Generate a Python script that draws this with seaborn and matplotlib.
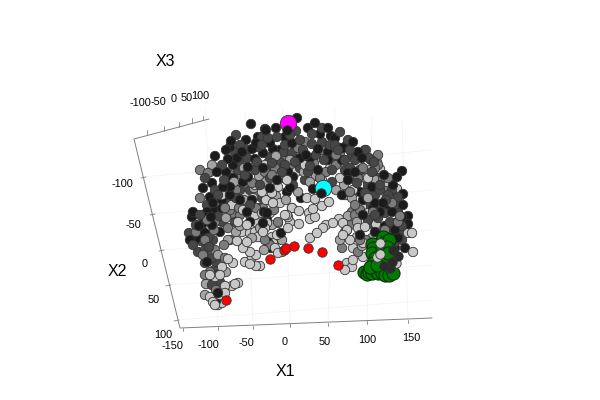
import pandas as pd
import matplotlib
matplotlib.use("Agg")
import matplotlib.pyplot as plt
import seaborn as sns

# projected positions of the points, by shade
black_pts = [(251,124),(215,156),(231,141),(230,147),(258,137),(266,130),(228,159),(226,172),(217,172),(248,167),
    (233,165),(242,152),(252,149),(263,153),(255,159),(297,118),(265,129),(276,128),(315,123),(328,128),(320,134),
    (331,136),(335,138),(340,148),(292,143),(270,143),(280,150),(273,149),(318,149),(328,152),(310,158),(338,162),
    (318,170),(300,158),(263,168),(288,172),(402,171),(397,177),(393,185),(403,194),(403,205),(353,142),(348,173),
    (355,172),(348,180),(371,160),(360,192),(383,203),(373,208),(363,200),(343,148),(342,160),(372,187),(388,207),
    (375,203),(203,188),(212,183),(210,197),(213,203),(215,210),(222,208),(230,195),(223,187),(230,187),(193,212),
    (192,217),(205,217),(211,217),(203,223),(202,230),(197,238),(205,233),(243,182),(247,212),(252,200),(240,200),
    (220,232),(233,178),(248,177),(260,208),(267,213),(250,222),(290,188),(287,192),(301,198),(313,189),(270,188),
    (281,233),(264,212),(267,220),(263,223),(277,180),(293,177),(347,195),(342,195),(408,216),(408,224),(402,217),
    (395,223),(390,245),(395,248),(405,248),(388,255),(363,215),(375,232),(360,235),(207,262),(190,240),
    (216,301),(218,293),(268,242),(269,245),(271,248),(246,140),(285,137),(308,128),(346,146),(358,152),(226,150),
    (256,143),(296,148),(306,155),(328,160),(362,158),(384,175),(380,212),(392,212),(398,238),(385,226),(395,230),
    (237,158),(222,200),(207,212),(199,226),(212,225)]
dark_pts = [(240,145),(247,158),(258,147),(235,152),(222,165),(238,170),(255,170),(268,138),(277,137),(285,145),
    (262,145),(270,157),(280,162),(292,153),(303,150),(312,144),(322,142),(330,145),(300,168),(308,172),(324,160),
    (332,170),(345,160),(350,150),(355,160),(360,170),(365,150),(348,140),(352,155),(372,172),(380,172),(368,185),
    (380,190),(388,195),(380,185),(357,183),(395,205),(385,213),(398,212),(378,218),(390,222),(400,232),(392,235),
    (402,240),(385,238),(395,242),(368,220),(374,225),(200,215),(207,205),(196,225),(215,190),(205,178),(218,195),
    (228,203),(240,190),(250,190),(260,185),(270,178),(282,172),(293,185),(305,180),(250,205),(262,198),(193,245),
    (205,250),(213,240),(222,222),(235,222),(205,263),(216,262),(220,282),(218,275),(189,233),(208,238),(290,135),
    (300,140),(312,134),(340,132),(345,170),(375,195),(365,193),(332,182),(224,180),(240,160),(257,162),(270,170),
    (285,165),(198,252),(212,285),(262,137),(296,131),(322,128),(335,145),(369,158),(236,135),(246,150),(272,163),
    (284,152),(316,155),(338,150),(350,168),(374,162),(392,190),(398,197),(368,205),(386,200),(375,215),(402,226),
    (383,232),(227,186),(236,198),(245,175),(219,216),(209,247),(201,241),(212,258),(215,270),(295,162),(310,166)]
mid_pts = [(208,173),(200,170),(230,175),(242,175),(265,172),(275,168),(298,160),(320,178),(336,155),(363,168),
    (378,165),(383,178),(392,203),(360,210),(350,192),(372,195),(385,188),(380,205),(365,205),(355,205),(200,198),
    (207,220),(215,222),(230,210),(240,215),(250,215),(258,222),(268,200),(274,210),(205,240),(215,250),(225,258),
    (210,272),(216,290),(265,240),(270,245),(345,232),(350,225),(355,215),(360,240),(385,230),(342,248),(358,252),
    (298,148),(305,142),(322,150),(340,155),(284,157),(268,163),(252,183),(236,190),(226,195),(214,230),(230,240),
    (224,245),(210,255),(263,208),(278,222),(398,222),(390,232),(400,216),(375,168),(358,178),(225,208),(235,215),
    (255,195),(246,204),(272,175),(283,178),(292,165),(314,163),(326,172),(336,165),(352,178),(365,178),(378,155),
    (388,178),(393,197),(373,212),(352,212),(366,240),(205,275),(203,255),(196,232),(228,228),(239,208),(256,208)]
pale_pts = [(212,165),(234,182),(244,168),(259,176),(276,156),(290,160),(304,172),(316,176),(330,156),(344,185),
    (352,198),(376,180),(390,198),(368,198),(357,222),(372,238),(216,212),(226,218),(240,226),(252,238),(260,228),
    (272,225),(282,240),(206,284),(214,281),(226,272),(244,200),(254,188),(266,182),(276,196),(286,200),(298,192),
    (310,182),(336,190),(362,246),(348,216),(340,240),(205,295),(228,240),(236,232),(218,255),(264,250),(276,240)]
light_pts = [(292,208),(299,211),(313,209),(309,213),(322,206),(329,202),(315,217),(310,219),(299,224),(339,219),
    (333,223),(326,225),(323,228),(317,233),(310,238),(343,223),(347,230),(343,235),(288,228),(288,217),(285,215),
    (273,203),(280,203),(266,200),(262,192),(278,187),(307,198),(315,199),(237,241),(247,242),(243,248),(250,252),
    (256,255),(252,257),(245,262),(250,264),(256,266),(260,266),(228,259),(233,263),(222,267),(213,262),(220,275),
    (215,277),(210,275),(238,283),(235,284),(232,286),(225,286),(225,293),(220,295),(215,305),(218,305),(210,297),
    (213,302),(222,303),(273,243),(275,248),(278,253),(282,252),(272,237),(277,235),(263,232),(258,237),(267,223),
    (257,223),(253,198),(292,208),(287,215),(290,222),(250,233),(262,213),(270,213),(278,223),(347,230),(350,240),
    (353,248),(357,237),(365,227),(358,228),(354,220),(363,243),(363,257),(353,260),(345,270),(352,267),(347,263),
    (362,207),(357,207),(368,213),(376,224),(413,252),(408,233),(412,233),(353,190),(345,195),(368,189),
    (370,170),(378,197),(362,208),(399,201),(377,162),(380,169),(366,150),(387,182),(397,189),(368,178),(357,164),
    (210,172),(222,195),(265,165),(278,165),(287,180),(296,172),(305,165),(330,168),(322,180),(340,178),(244,183),
    (255,185),(272,193),(245,195),(232,205),(243,210),(255,215),(238,222),(247,225),(258,217),(265,228),(242,232),
    (255,232)]
green_pts = [(372,244),(373,248),(372,253),(375,258),(383,237),(385,242),(389,240),(364,272),(367,274),(369,272),
    (372,273),(375,270),(378,273),(382,273),(385,275),(389,275),(393,273),(392,260),(388,258),(383,258),(382,248),
    (387,247),(388,253),(373,263),(370,267),(377,265)]
over_green_pts = [(380,243),(377,257),(380,254),(396,263)]
over_green_dark = [(390,268),(384,266),(393,250),(398,256),(392,262)]
red_pts = [(226,300),(270,259),(284,250),(286,248),(294,246),(308,248),(322,252),(338,265)]
magenta_pt = (288,123)
cyan_pt = (323,188)
top_black_pts = [(287,130),(321,193)]

shade_names = ["black", "dark", "mid", "pale", "light"]
shade_colors = ["#1b1b1b", "#474747", "#7c7c7c", "#a3a3a3", "#c8c8c8"]

# tick labels on the three box axes with their places on the page
x1_labels = ["-150", "-100", "-50", "0", "50", "100", "150"]
x1_label_x = [172, 208, 246, 285, 325, 367, 411]
x1_label_y = [346, 345, 343, 342, 342, 340, 338]
x2_labels = ["-100", "-50", "0", "50", "100"]
x2_label_x = [122, 133, 145, 154, 163]
x2_label_y = [184, 225, 264, 300, 335]
x3_labels = ["-100", "-50", "0", "50", "100"]
x3_label_x = [140, 158, 174, 187, 200]
x3_label_y = [103, 102, 99, 98, 96]


def to_frame(pts, name):
    df = pd.DataFrame(pts, columns=["x", "y"])
    df["shade"] = name
    return df


cloud = pd.concat([to_frame(p, n) for p, n in
                   zip([black_pts, dark_pts, mid_pts, pale_pts, light_pts], shade_names)], ignore_index=True)
# depth order in the picture looks mixed, so mix the draw order without randomness
cloud["order"] = (cloud["x"] * 7 + cloud["y"] * 13) % 17
# the upper band reads darker: its dark points sit in front
upper_dark = (cloud["y"] < 190) & cloud["shade"].isin(["black", "dark"])
cloud.loc[upper_dark, "order"] += 8
cloud = cloud.sort_values("order")

sns.set_style("white")
plt.rcParams["font.family"] = ["Liberation Sans", "DejaVu Sans"]

fig = plt.figure(figsize=(6, 4), dpi=100)
ax = fig.add_axes([0, 0, 1, 1])
ax.set_xlim(0, 600)
ax.set_ylim(400, 0)

# faint floor grid
grid = "#f3f3f3"
for x0, y0, x1, y1 in [(218,328,205,110),(253,327,245,112),(290,325,283,108),(328,323,335,110),(367,323,372,118),(408,321,402,120),
                       (142,177,432,150),(153,214,432,190),(162,250,432,230),(168,285,432,265),(177,320,432,300)]:
    ax.plot([x0, x1], [y0, y1], color=grid, lw=0.6, zorder=1)

# box edges and ticks
edge = "#808080"
ax.plot([209, 134, 180, 432], [119, 139, 328, 318], color=edge, lw=0.7, zorder=2)
for x0, y0, x1, y1 in [(183,328,183,331),(218,327,218,330),(253,326,253,329),(290,324,290,327),(328,323,328,326),(367,321,367,324),(408,320,408,323),
                       (146,177,141,178),(155,214,150,215),(164,250,159,251),(171,285,166,286),(179,320,174,321),
                       (147,135,147,130),(164,131,164,126),(179,127,179,122),(192,123,192,118),(203,120,203,116)]:
    ax.plot([x0, x1], [y0, y1], color=edge, lw=0.6, zorder=2)

for lab, x, y in zip(x1_labels + x2_labels + x3_labels,
                     x1_label_x + x2_label_x + x3_label_x,
                     x1_label_y + x2_label_y + x3_label_y):
    ax.text(x, y, lab, ha="center", va="center", fontsize=7.8, color="black")
ax.text(285, 372, "X1", ha="center", va="center", fontsize=11.5, color="black")
ax.text(117, 272, "X2", ha="center", va="center", fontsize=11.5, color="black")
ax.text(165, 61, "X3", ha="center", va="center", fontsize=11.5, color="black")

pt_edge = "#333333"
sns.scatterplot(data=cloud, x="x", y="y", hue="shade", hue_order=shade_names, palette=shade_colors,
                s=46, edgecolor=pt_edge, linewidth=0.6, alpha=1, legend=False, ax=ax, zorder=3)
sns.scatterplot(x=[p[0] for p in green_pts], y=[p[1] for p in green_pts], color="#007a00",
                s=90, edgecolor="#062a06", linewidth=0.7, ax=ax, zorder=4)
sns.scatterplot(x=[p[0] for p in over_green_pts], y=[p[1] for p in over_green_pts], color="#c8c8c8",
                s=46, edgecolor=pt_edge, linewidth=0.6, ax=ax, zorder=5)
sns.scatterplot(x=[p[0] for p in over_green_dark], y=[p[1] for p in over_green_dark], color="#2a2a2a",
                s=46, edgecolor=pt_edge, linewidth=0.6, ax=ax, zorder=5)
sns.scatterplot(x=[p[0] for p in red_pts], y=[p[1] for p in red_pts], color="#ff0000",
                s=46, edgecolor=pt_edge, linewidth=0.6, ax=ax, zorder=5)
sns.scatterplot(x=[magenta_pt[0]], y=[magenta_pt[1]], color="#ff00ff", s=140, edgecolor=pt_edge, linewidth=0.6, ax=ax, zorder=5)
sns.scatterplot(x=[cyan_pt[0]], y=[cyan_pt[1]], color="#00ffff", s=140, edgecolor=pt_edge, linewidth=0.6, ax=ax, zorder=5)
sns.scatterplot(x=[p[0] for p in top_black_pts], y=[p[1] for p in top_black_pts], color="#1b1b1b",
                s=46, edgecolor=pt_edge, linewidth=0.6, ax=ax, zorder=6)
ax.axis("off")

fig.savefig("out.png", dpi=100, facecolor="white")
